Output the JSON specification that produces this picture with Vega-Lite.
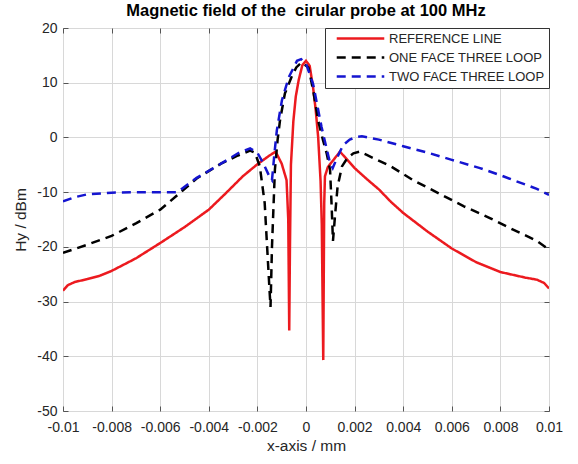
{
  "$schema": "https://vega.github.io/schema/vega-lite/v6.json",
  "autosize": "none",
  "width": 486,
  "height": 383,
  "padding": {"left": 63, "top": 28, "right": 29, "bottom": 53},
  "background": "white",
  "title": {"text": "Magnetic field of the \u00a0cirular probe at 100 MHz", "font": "Liberation Sans", "fontSize": 16.5, "fontWeight": "bold", "color": "#000000", "offset": 2},
  "config": {
    "view": {"stroke": "#555555", "strokeWidth": 1},
    "axis": {"labelFont": "Liberation Sans", "labelFontSize": 14, "labelColor": "#262626", "titleFont": "Liberation Sans", "titleFontSize": 15.5, "titleFontWeight": "normal", "titleColor": "#262626", "gridColor": "#d8d8d8", "gridOpacity": 1, "domain": false, "tickColor": "#555555", "tickSize": -5}
  },
  "datasets": {
    "curves": [
      {"series": "REFERENCE LINE", "x": -0.01, "y": -28.0},
      {"series": "REFERENCE LINE", "x": -0.0098, "y": -27.0},
      {"series": "REFERENCE LINE", "x": -0.0095, "y": -26.4},
      {"series": "REFERENCE LINE", "x": -0.009, "y": -25.9},
      {"series": "REFERENCE LINE", "x": -0.0085, "y": -25.3},
      {"series": "REFERENCE LINE", "x": -0.008, "y": -24.4},
      {"series": "REFERENCE LINE", "x": -0.007, "y": -22.1},
      {"series": "REFERENCE LINE", "x": -0.006, "y": -19.3},
      {"series": "REFERENCE LINE", "x": -0.005, "y": -16.4},
      {"series": "REFERENCE LINE", "x": -0.004, "y": -13.2},
      {"series": "REFERENCE LINE", "x": -0.0033, "y": -10.2},
      {"series": "REFERENCE LINE", "x": -0.0026, "y": -7.1},
      {"series": "REFERENCE LINE", "x": -0.002, "y": -4.9},
      {"series": "REFERENCE LINE", "x": -0.0015, "y": -3.3},
      {"series": "REFERENCE LINE", "x": -0.00125, "y": -2.6},
      {"series": "REFERENCE LINE", "x": -0.001, "y": -4.8},
      {"series": "REFERENCE LINE", "x": -0.0008, "y": -7.8},
      {"series": "REFERENCE LINE", "x": -0.00073, "y": -15},
      {"series": "REFERENCE LINE", "x": -0.00069, "y": -35.3},
      {"series": "REFERENCE LINE", "x": -0.00066, "y": -20},
      {"series": "REFERENCE LINE", "x": -0.00062, "y": -5},
      {"series": "REFERENCE LINE", "x": -0.00052, "y": 3},
      {"series": "REFERENCE LINE", "x": -0.00042, "y": 7.5},
      {"series": "REFERENCE LINE", "x": -0.0003, "y": 10.5},
      {"series": "REFERENCE LINE", "x": -0.00015, "y": 13.2},
      {"series": "REFERENCE LINE", "x": 0.0, "y": 14.0},
      {"series": "REFERENCE LINE", "x": 0.00015, "y": 13.1},
      {"series": "REFERENCE LINE", "x": 0.00029, "y": 9.2},
      {"series": "REFERENCE LINE", "x": 0.0004, "y": 5.0},
      {"series": "REFERENCE LINE", "x": 0.0005, "y": 0.1},
      {"series": "REFERENCE LINE", "x": 0.0006, "y": -8},
      {"series": "REFERENCE LINE", "x": 0.00065, "y": -16},
      {"series": "REFERENCE LINE", "x": 0.00071, "y": -40.7},
      {"series": "REFERENCE LINE", "x": 0.00075, "y": -12},
      {"series": "REFERENCE LINE", "x": 0.00078, "y": -7.1},
      {"series": "REFERENCE LINE", "x": 0.0009, "y": -5.4},
      {"series": "REFERENCE LINE", "x": 0.0014, "y": -2.6},
      {"series": "REFERENCE LINE", "x": 0.002, "y": -5.6},
      {"series": "REFERENCE LINE", "x": 0.0025, "y": -7.6},
      {"series": "REFERENCE LINE", "x": 0.003, "y": -9.5},
      {"series": "REFERENCE LINE", "x": 0.0035, "y": -11.8},
      {"series": "REFERENCE LINE", "x": 0.004, "y": -13.8},
      {"series": "REFERENCE LINE", "x": 0.005, "y": -17.2},
      {"series": "REFERENCE LINE", "x": 0.006, "y": -20.3},
      {"series": "REFERENCE LINE", "x": 0.007, "y": -22.8},
      {"series": "REFERENCE LINE", "x": 0.008, "y": -24.6},
      {"series": "REFERENCE LINE", "x": 0.009, "y": -25.6},
      {"series": "REFERENCE LINE", "x": 0.0095, "y": -26.0},
      {"series": "REFERENCE LINE", "x": 0.0098, "y": -26.6},
      {"series": "REFERENCE LINE", "x": 0.01, "y": -27.6},
      {"series": "ONE FACE THREE LOOP", "x": -0.01, "y": -21.1},
      {"series": "ONE FACE THREE LOOP", "x": -0.009, "y": -19.6},
      {"series": "ONE FACE THREE LOOP", "x": -0.008, "y": -18.0},
      {"series": "ONE FACE THREE LOOP", "x": -0.007, "y": -15.7},
      {"series": "ONE FACE THREE LOOP", "x": -0.006, "y": -13.2},
      {"series": "ONE FACE THREE LOOP", "x": -0.0052, "y": -10.2},
      {"series": "ONE FACE THREE LOOP", "x": -0.0045, "y": -7.5},
      {"series": "ONE FACE THREE LOOP", "x": -0.0035, "y": -4.8},
      {"series": "ONE FACE THREE LOOP", "x": -0.0028, "y": -3.3},
      {"series": "ONE FACE THREE LOOP", "x": -0.0023, "y": -2.4},
      {"series": "ONE FACE THREE LOOP", "x": -0.0021, "y": -2.8},
      {"series": "ONE FACE THREE LOOP", "x": -0.0019, "y": -5.3},
      {"series": "ONE FACE THREE LOOP", "x": -0.0017, "y": -12},
      {"series": "ONE FACE THREE LOOP", "x": -0.0016, "y": -20},
      {"series": "ONE FACE THREE LOOP", "x": -0.0015, "y": -28},
      {"series": "ONE FACE THREE LOOP", "x": -0.00146, "y": -31},
      {"series": "ONE FACE THREE LOOP", "x": -0.0014, "y": -20},
      {"series": "ONE FACE THREE LOOP", "x": -0.00128, "y": -5.9},
      {"series": "ONE FACE THREE LOOP", "x": -0.00117, "y": -0.5},
      {"series": "ONE FACE THREE LOOP", "x": -0.00107, "y": 3.1},
      {"series": "ONE FACE THREE LOOP", "x": -0.00087, "y": 8.0},
      {"series": "ONE FACE THREE LOOP", "x": -0.0006, "y": 11.0},
      {"series": "ONE FACE THREE LOOP", "x": -0.0004, "y": 12.8},
      {"series": "ONE FACE THREE LOOP", "x": -0.00018, "y": 13.7},
      {"series": "ONE FACE THREE LOOP", "x": 0.0001, "y": 12.8},
      {"series": "ONE FACE THREE LOOP", "x": 0.0003, "y": 8.5},
      {"series": "ONE FACE THREE LOOP", "x": 0.0005, "y": 3.1},
      {"series": "ONE FACE THREE LOOP", "x": 0.0007, "y": -0.5},
      {"series": "ONE FACE THREE LOOP", "x": 0.00085, "y": -2.9},
      {"series": "ONE FACE THREE LOOP", "x": 0.00099, "y": -5.9},
      {"series": "ONE FACE THREE LOOP", "x": 0.00105, "y": -12},
      {"series": "ONE FACE THREE LOOP", "x": 0.00111, "y": -18.9},
      {"series": "ONE FACE THREE LOOP", "x": 0.0012, "y": -14},
      {"series": "ONE FACE THREE LOOP", "x": 0.0013, "y": -9},
      {"series": "ONE FACE THREE LOOP", "x": 0.00148, "y": -5.3},
      {"series": "ONE FACE THREE LOOP", "x": 0.0017, "y": -3.8},
      {"series": "ONE FACE THREE LOOP", "x": 0.00195, "y": -2.9},
      {"series": "ONE FACE THREE LOOP", "x": 0.0022, "y": -2.6},
      {"series": "ONE FACE THREE LOOP", "x": 0.0025, "y": -3.2},
      {"series": "ONE FACE THREE LOOP", "x": 0.0035, "y": -5.3},
      {"series": "ONE FACE THREE LOOP", "x": 0.0044, "y": -7.8},
      {"series": "ONE FACE THREE LOOP", "x": 0.0055, "y": -10.3},
      {"series": "ONE FACE THREE LOOP", "x": 0.0065, "y": -12.6},
      {"series": "ONE FACE THREE LOOP", "x": 0.0075, "y": -14.6},
      {"series": "ONE FACE THREE LOOP", "x": 0.0085, "y": -16.8},
      {"series": "ONE FACE THREE LOOP", "x": 0.0095, "y": -18.9},
      {"series": "ONE FACE THREE LOOP", "x": 0.01, "y": -20.5},
      {"series": "TWO FACE THREE LOOP", "x": -0.01, "y": -11.7},
      {"series": "TWO FACE THREE LOOP", "x": -0.0095, "y": -10.9},
      {"series": "TWO FACE THREE LOOP", "x": -0.009, "y": -10.4},
      {"series": "TWO FACE THREE LOOP", "x": -0.008, "y": -10.1},
      {"series": "TWO FACE THREE LOOP", "x": -0.007, "y": -10.0},
      {"series": "TWO FACE THREE LOOP", "x": -0.006, "y": -10.0},
      {"series": "TWO FACE THREE LOOP", "x": -0.0053, "y": -10.0},
      {"series": "TWO FACE THREE LOOP", "x": -0.0045, "y": -7.4},
      {"series": "TWO FACE THREE LOOP", "x": -0.0035, "y": -4.8},
      {"series": "TWO FACE THREE LOOP", "x": -0.0028, "y": -2.9},
      {"series": "TWO FACE THREE LOOP", "x": -0.0023, "y": -2.0},
      {"series": "TWO FACE THREE LOOP", "x": -0.002, "y": -2.8},
      {"series": "TWO FACE THREE LOOP", "x": -0.00176, "y": -4.7},
      {"series": "TWO FACE THREE LOOP", "x": -0.0015, "y": -7.2},
      {"series": "TWO FACE THREE LOOP", "x": -0.0014, "y": -7.8},
      {"series": "TWO FACE THREE LOOP", "x": -0.0013, "y": -3.0},
      {"series": "TWO FACE THREE LOOP", "x": -0.0012, "y": 1.3},
      {"series": "TWO FACE THREE LOOP", "x": -0.00099, "y": 6.8},
      {"series": "TWO FACE THREE LOOP", "x": -0.00071, "y": 11.0},
      {"series": "TWO FACE THREE LOOP", "x": -0.00037, "y": 14.0},
      {"series": "TWO FACE THREE LOOP", "x": -0.0002, "y": 14.3},
      {"series": "TWO FACE THREE LOOP", "x": 0.0, "y": 13.5},
      {"series": "TWO FACE THREE LOOP", "x": 0.00029, "y": 9.8},
      {"series": "TWO FACE THREE LOOP", "x": 0.00064, "y": 1.9},
      {"series": "TWO FACE THREE LOOP", "x": 0.00099, "y": -4.7},
      {"series": "TWO FACE THREE LOOP", "x": 0.0011, "y": -5.6},
      {"series": "TWO FACE THREE LOOP", "x": 0.0013, "y": -3.5},
      {"series": "TWO FACE THREE LOOP", "x": 0.00153, "y": -1.4},
      {"series": "TWO FACE THREE LOOP", "x": 0.0018, "y": -0.4},
      {"series": "TWO FACE THREE LOOP", "x": 0.00208, "y": 0.1},
      {"series": "TWO FACE THREE LOOP", "x": 0.0023, "y": 0.2},
      {"series": "TWO FACE THREE LOOP", "x": 0.003, "y": -0.4},
      {"series": "TWO FACE THREE LOOP", "x": 0.004, "y": -1.6},
      {"series": "TWO FACE THREE LOOP", "x": 0.0051, "y": -2.9},
      {"series": "TWO FACE THREE LOOP", "x": 0.006, "y": -4.1},
      {"series": "TWO FACE THREE LOOP", "x": 0.00716, "y": -5.6},
      {"series": "TWO FACE THREE LOOP", "x": 0.008, "y": -6.9},
      {"series": "TWO FACE THREE LOOP", "x": 0.00853, "y": -7.8},
      {"series": "TWO FACE THREE LOOP", "x": 0.0095, "y": -9.4},
      {"series": "TWO FACE THREE LOOP", "x": 0.01, "y": -10.5}
    ]
  },
  "data": {"name": "curves"},
  "layer": [
    {
      "mark": {"type": "line", "strokeWidth": 2.5, "clip": true},
      "encoding": {
        "x": {"field": "x", "type": "quantitative", "scale": {"domain": [-0.01, 0.01], "nice": false, "zero": false},
          "axis": {"orient": "bottom", "title": "x-axis / mm", "values": [-0.01, -0.008, -0.006, -0.004, -0.002, 0, 0.002, 0.004, 0.006, 0.008, 0.01], "labelExpr": "'' + datum.value", "labelPadding": 14, "titlePadding": 4, "labelFlush": false}},
        "y": {"field": "y", "type": "quantitative", "scale": {"domain": [-50, 20], "nice": false, "zero": false},
          "axis": {"orient": "left", "title": "Hy / dBm", "values": [20, 10, 0, -10, -20, -30, -40, -50], "labelExpr": "'' + datum.value", "labelPadding": 11, "titlePadding": 8}},
        "color": {"field": "series", "type": "nominal",
          "scale": {"domain": ["REFERENCE LINE", "ONE FACE THREE LOOP", "TWO FACE THREE LOOP"], "range": ["#ec1a1f", "#000000", "#1515d0"]},
          "legend": {"title": null, "orient": "top-right", "offset": 0, "padding": 4, "rowPadding": 5, "strokeColor": "#333333", "fillColor": "#ffffff", "symbolType": "stroke", "symbolSize": 2260, "symbolStrokeWidth": 2.5, "symbolOffset": 6, "labelOffset": 3, "labelFont": "Liberation Sans", "labelFontSize": 13, "labelColor": "#262626", "clipHeight": 13, "cornerRadius": 0}},
        "strokeDash": {"field": "series", "type": "nominal",
          "scale": {"domain": ["REFERENCE LINE", "ONE FACE THREE LOOP", "TWO FACE THREE LOOP"], "range": [[1, 0], [9, 6], [9, 6]]},
          "legend": null},
        "order": {"field": "x", "type": "quantitative"}
      }
    },
    {
      "mark": {"type": "line", "opacity": 0},
      "encoding": {
        "x": {"field": "x", "type": "quantitative", "axis": {"orient": "top", "title": null, "labels": false, "grid": false, "values": [-0.01, -0.008, -0.006, -0.004, -0.002, 0, 0.002, 0.004, 0.006, 0.008, 0.01]}},
        "y": {"field": "y", "type": "quantitative", "axis": {"orient": "right", "title": null, "labels": false, "grid": false, "values": [20, 10, 0, -10, -20, -30, -40, -50]}},
        "detail": {"field": "series", "type": "nominal"}
      }
    }
  ],
  "resolve": {"axis": {"x": "independent", "y": "independent"}}
}
